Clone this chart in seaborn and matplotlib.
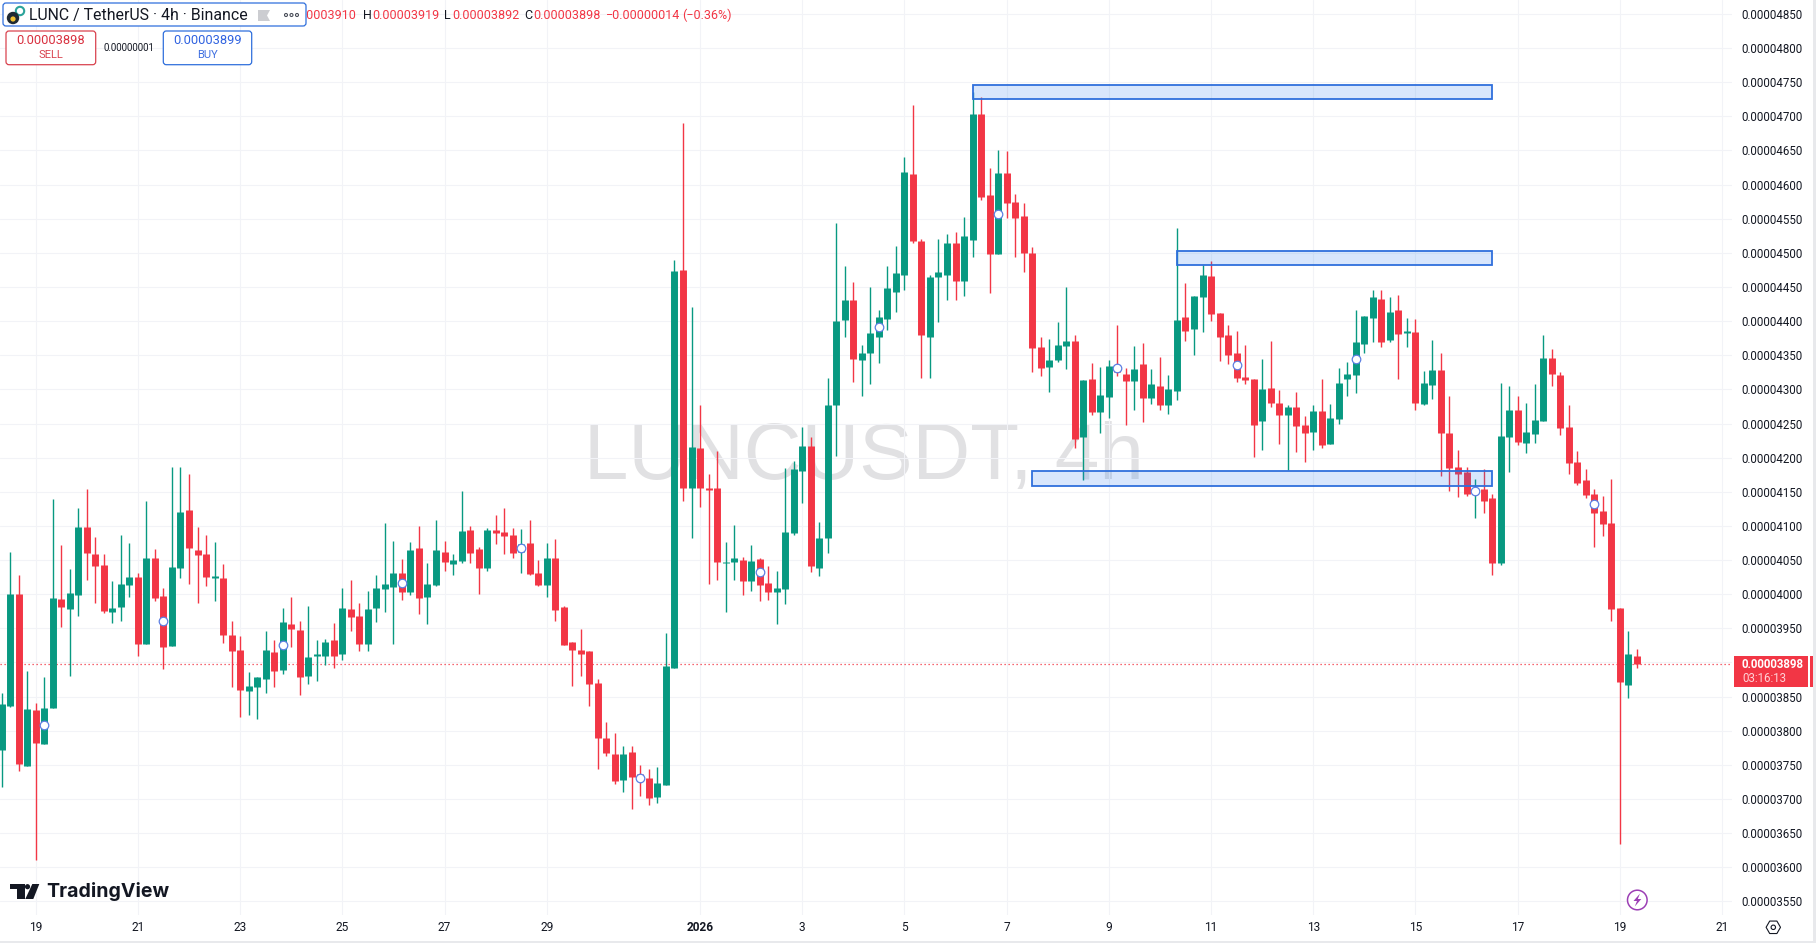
import numpy as np
import pandas as pd
import matplotlib.pyplot as plt
import seaborn as sns
from matplotlib.patches import Rectangle, FancyBboxPatch, Circle, Polygon

# prices are in units of 0.00000001, candle 0 opens on the 19th
opens = [3771, 3836, 4000, 3748, 3830, 3780, 3833, 3993, 3978, 3999,
         4098, 4059, 4043, 3974, 3981, 4013, 4025, 3927, 4053, 3997,
         3924, 4038, 4123, 4065, 4059, 4024, 4024, 3940, 3918, 3858,
         3864, 3876, 3915, 3889, 3956, 3947, 3880, 3910, 3909, 3933,
         3912, 3978, 3968, 3927, 3980, 4007, 4010, 4031, 4003, 4068,
         3996, 4013, 4062, 4044, 4049, 4094, 4066, 4038, 4094, 4091,
         4087, 4062, 4075, 4031, 4013, 4053, 3981, 3930, 3918, 3917,
         3870, 3789, 3766, 3728, 3769, 3736, 3730, 3703, 3720, 3892,
         4475, 4156, 4214, 4156, 4156, 4045, 4047, 4050, 4020, 4052,
         4017, 4003, 4008, 4090, 4181, 4217, 4039, 4082, 4277, 4401,
         4431, 4343, 4353, 4377, 4403, 4443, 4468, 4616, 4518, 4377,
         4465, 4468, 4514, 4459, 4519, 4703, 4585, 4498, 4617, 4574,
         4554, 4500, 4362, 4333, 4343, 4363, 4371, 4230, 4315, 4267,
         4289, 4335, 4322, 4312, 4337, 4287, 4305, 4277, 4297, 4406,
         4388, 4435, 4466, 4412, 4380, 4353, 4318, 4315, 4254, 4302,
         4280, 4262, 4274, 4248, 4237, 4268, 4220, 4256, 4315, 4321,
         4366, 4404, 4433, 4372, 4416, 4383, 4384, 4278, 4306, 4329,
         4236, 4186, 4179, 4146, 4154, 4141, 4046, 4230, 4270, 4221,
         4234, 4253, 4346, 4321, 4245, 4193, 4167, 4147, 4122, 4104,
         3980, 3867, 3910]
highs = [3855, 4062, 4028, 3887, 3840, 3879, 4139, 4072, 4037, 4126,
         4154, 4084, 4059, 4019, 4087, 4075, 4031, 4136, 4066, 4009,
         4186, 4186, 4176, 4098, 4087, 4076, 4044, 3961, 3939, 3886,
         3879, 3946, 3933, 3980, 3996, 3961, 3983, 3933, 3934, 3958,
         4009, 4021, 3987, 4005, 4028, 4104, 4078, 4051, 4076, 4100,
         4046, 4109, 4078, 4059, 4151, 4100, 4069, 4097, 4116, 4126,
         4097, 4095, 4109, 4050, 4075, 4081, 3983, 3930, 3949, 3917,
         3876, 3813, 3796, 3777, 3777, 3750, 3744, 3747, 3943, 4490,
         4690, 4420, 4277, 4176, 4209, 4076, 4102, 4055, 4072, 4053,
         4041, 4034, 4185, 4195, 4245, 4230, 4105, 4317, 4543, 4481,
         4457, 4365, 4450, 4417, 4480, 4510, 4640, 4716, 4520, 4468,
         4520, 4528, 4530, 4552, 4735, 4728, 4624, 4651, 4649, 4586,
         4573, 4509, 4377, 4374, 4399, 4450, 4380, 4314, 4339, 4333,
         4343, 4394, 4331, 4363, 4368, 4330, 4347, 4321, 4536, 4456,
         4437, 4482, 4488, 4412, 4394, 4385, 4365, 4315, 4344, 4371,
         4299, 4277, 4296, 4261, 4277, 4315, 4278, 4331, 4340, 4416,
         4407, 4446, 4445, 4435, 4438, 4404, 4403, 4327, 4373, 4353,
         4290, 4211, 4186, 4169, 4184, 4147, 4310, 4305, 4291, 4280,
         4308, 4379, 4359, 4325, 4277, 4210, 4183, 4154, 4144, 4169,
         3980, 3946, 3919]
lows = [3718, 3835, 3741, 3748, 3610, 3780, 3833, 3952, 3880, 3968,
        4021, 3987, 3972, 3958, 3961, 3996, 3909, 3927, 3990, 3890,
        3924, 4024, 4015, 3987, 4012, 3990, 3928, 3864, 3820, 3823,
        3817, 3855, 3864, 3883, 3922, 3852, 3868, 3873, 3896, 3892,
        3903, 3946, 3917, 3917, 3959, 3974, 3927, 3991, 3999, 3971,
        3956, 4012, 4034, 4028, 4046, 4046, 4000, 4034, 4073, 4059,
        4053, 4031, 4028, 4012, 3996, 3961, 3925, 3865, 3880, 3836,
        3744, 3763, 3722, 3710, 3685, 3704, 3691, 3694, 3720, 3892,
        4136, 4082, 4128, 4015, 4021, 3974, 4021, 3999, 4005, 3990,
        3991, 3957, 3986, 4086, 4134, 4032, 4026, 4060, 4202, 4376,
        4311, 4291, 4308, 4339, 4387, 4413, 4445, 4514, 4317, 4317,
        4398, 4431, 4431, 4437, 4494, 4577, 4441, 4498, 4551, 4494,
        4472, 4325, 4319, 4296, 4340, 4330, 4214, 4167, 4262, 4236,
        4258, 4319, 4248, 4270, 4252, 4278, 4270, 4264, 4284, 4371,
        4350, 4384, 4400, 4341, 4337, 4311, 4308, 4201, 4211, 4274,
        4220, 4182, 4208, 4193, 4211, 4214, 4220, 4249, 4291, 4294,
        4354, 4369, 4362, 4370, 4315, 4362, 4270, 4277, 4286, 4173,
        4151, 4142, 4144, 4112, 4119, 4028, 4043, 4179, 4218, 4207,
        4221, 4253, 4305, 4233, 4176, 4160, 4141, 4069, 4085, 3961,
        3634, 3848, 3892]
closes = [3839, 4000, 3751, 3832, 3782, 3833, 3994, 3981, 4002, 4098,
          4060, 4041, 3975, 3980, 4015, 4025, 3927, 4053, 3994, 3922,
          4040, 4120, 4068, 4057, 4025, 4026, 3940, 3917, 3859, 3865,
          3879, 3918, 3887, 3959, 3949, 3879, 3908, 3912, 3930, 3909,
          3980, 3966, 3927, 3978, 4009, 4015, 4031, 4003, 4065, 3994,
          4015, 4065, 4047, 4050, 4092, 4060, 4038, 4094, 4090, 4085,
          4060, 4073, 4029, 4013, 4053, 3977, 3925, 3918, 3912, 3868,
          3789, 3767, 3726, 3766, 3732, 3728, 3701, 3723, 3895, 4473,
          4156, 4216, 4155, 4153, 4047, 4047, 4053, 4020, 4049, 4014,
          4003, 4009, 4091, 4184, 4217, 4041, 4083, 4277, 4400, 4431,
          4345, 4354, 4382, 4406, 4449, 4470, 4618, 4518, 4380, 4465,
          4472, 4514, 4459, 4524, 4703, 4582, 4498, 4617, 4573, 4551,
          4500, 4360, 4331, 4343, 4365, 4371, 4227, 4314, 4267, 4292,
          4334, 4325, 4312, 4330, 4287, 4308, 4277, 4300, 4402, 4385,
          4437, 4467, 4410, 4377, 4350, 4317, 4314, 4248, 4300, 4280,
          4262, 4274, 4246, 4236, 4268, 4218, 4258, 4310, 4322, 4370,
          4407, 4435, 4369, 4414, 4381, 4385, 4280, 4309, 4329, 4236,
          4185, 4176, 4147, 4155, 4136, 4046, 4232, 4270, 4223, 4237,
          4255, 4346, 4322, 4243, 4192, 4163, 4145, 4119, 4103, 3978,
          3871, 3912, 3898]
first_candle = -4

# the small round alerts sitting on every 14th candle
alert_candles = [1, 15, 29, 43, 57, 71, 85, 99, 113, 127, 141, 155, 169, 183]
alert_prices = [3808, 3960, 3925, 4017, 4068, 3731, 4033, 4392, 4557, 4331,
                4335, 4345, 4151, 4132]

# drawn zones: start candle, end candle, top price, bottom price
zone_start = [110, 134, 117]
zone_end = [171, 171, 171]
zone_top = [4746, 4503, 4180]
zone_bottom = [4725, 4482, 4158]

last_price = 3898
price_ticks = list(range(3550, 4851, 50))
day_ticks = [0, 12, 24, 36, 48, 60, 78, 90, 102, 114, 126, 138, 150, 162, 174, 186, 198]
day_labels = ["19", "21", "23", "25", "27", "29", "2026", "3", "5", "7", "9",
              "11", "13", "15", "17", "19", "21"]

GREEN = "#089981"
RED = "#F23645"
INK = "#131722"
BLUE = "#2F6FDC"
GRID = "#F2F3F7"
W, H = 1816, 943

sns.set_theme(style="white")
plt.rcParams["font.family"] = ["Roboto", "DejaVu Sans"]

candle = np.arange(len(opens)) + first_candle
side = np.where(np.array(closes) >= np.array(opens), "up", "down")
colours = {"up": GREEN, "down": RED}

wicks = pd.DataFrame({"candle": np.repeat(candle, 2),
                      "price": np.column_stack([lows, highs]).ravel(),
                      "side": np.repeat(side, 2)})
bodies = pd.DataFrame({"candle": np.repeat(candle, 2),
                       "price": np.column_stack([opens, closes]).ravel(),
                       "side": np.repeat(side, 2)})
alerts = pd.DataFrame({"candle": alert_candles, "price": alert_prices})

fig = plt.figure(figsize=(W / 100, H / 100), dpi=100, facecolor="white")
ax = fig.add_axes([0, 1 - 915 / H, 1732 / W, 915 / H])

# axis limits put candle 0 near pixel 35.7 with 8.516 pixels per candle
ax.set_xlim(-4.193, 199.17)
ax.set_ylim(3530, 4870.4)

ax.text(0.499, 0.499, "LUNCUSDT, 4h", transform=ax.transAxes, ha="center", va="center",
        fontsize=57.6, color="#E1E1E3", family="Liberation Sans", zorder=0)

ax.axhline(last_price, color=RED, lw=0.9, ls=(0, (1, 2.2)), zorder=1.5)

sns.lineplot(data=wicks, x="candle", y="price", units="candle", hue="side", palette=colours,
             estimator=None, linewidth=1.0, legend=False, solid_capstyle="butt", ax=ax, zorder=2)
sns.lineplot(data=bodies, x="candle", y="price", units="candle", hue="side", palette=colours,
             estimator=None, linewidth=5.0, legend=False, solid_capstyle="butt", ax=ax, zorder=3)
sns.scatterplot(data=alerts, x="candle", y="price", s=38, color="white", edgecolor="#5C7FE3",
                linewidth=0.9, legend=False, ax=ax, zorder=4)

for start, end, top, bottom in zip(zone_start, zone_end, zone_top, zone_bottom):
    ax.add_patch(Rectangle((start, bottom), end - start, top - bottom, facecolor="#2979F0",
                           alpha=0.18, edgecolor="none", zorder=5))
    ax.add_patch(Rectangle((start, bottom), end - start, top - bottom, facecolor="none",
                           edgecolor=BLUE, lw=1.3, zorder=5))

ax.set_xlabel("")
ax.set_ylabel("")
ax.set_xticks(day_ticks)
ax.set_xticklabels(day_labels, fontsize=8.6, color=INK)
ax.get_xticklabels()[6].set_fontweight("bold")
ax.yaxis.tick_right()
ax.set_yticks(price_ticks)
ax.set_yticklabels(["{:.8f}".format(p / 1e8) for p in price_ticks], fontsize=8.3, color=INK)
ax.tick_params(axis="both", length=0)
ax.tick_params(axis="y", pad=7)
ax.tick_params(axis="x", pad=4.5)
ax.grid(True, color=GRID, lw=0.8)
ax.set_axisbelow(True)
sns.despine(ax=ax, left=True, right=True, top=True, bottom=True)

# interface bits on top, placed in pixels
ui = fig.add_axes([0, 0, 1, 1], facecolor="none")
ui.set_xlim(0, W)
ui.set_ylim(H, 0)
ui.axis("off")


def rounded(x0, y0, x1, y1, edge, face="white", z=6):
    ui.add_patch(FancyBboxPatch((x0 + 3, y0 + 3), x1 - x0 - 6, y1 - y0 - 6,
                                boxstyle="round,pad=3", facecolor=face, edgecolor=edge,
                                lw=0.9, zorder=z))


def label(x, y, s, size, color, ha="left", weight="normal", z=8, family=None):
    kw = {"family": family} if family else {}
    ui.text(x, y, s, fontsize=size, color=color, ha=ha, va="center", fontweight=weight, zorder=z, **kw)


# ohlc strip
label(356, 15.5, "O0.00003910", 9, RED, ha="right", z=5)
label(362.5, 15.5, "H", 9, INK)
label(372, 15.5, "0.00003919", 9, RED)
label(444, 15.5, "L", 9, INK)
label(452, 15.5, "0.00003892", 9, RED)
label(524, 15.5, "C", 9, INK)
label(533, 15.5, "0.00003898", 9, RED)
label(605.5, 15.5, "\u22120.00000014", 9, RED)
label(682.5, 15.5, "(\u22120.36%)", 9, RED)

rounded(3, 3, 306, 26, BLUE)
label(29, 15.5, "LUNC / TetherUS \u00b7 4h \u00b7 Binance", 11.4, INK)
ui.add_patch(Circle((13, 18), 6.2, facecolor="#1F2A33", edgecolor="none", zorder=7))
ui.add_patch(Circle((13, 19), 2.6, facecolor="#F2C230", edgecolor="none", zorder=8))
ui.add_patch(Circle((20, 11), 4.2, facecolor="white", edgecolor="#2BA39A", lw=1.5, zorder=6.5))
ui.add_patch(Polygon([(258, 10), (270, 10), (267, 15.5), (270, 21), (258, 21)],
                     facecolor="#CCCDD1", edgecolor="none", zorder=7))
for cx in [286, 291.5, 297]:
    ui.add_patch(Circle((cx, 15), 1.5, facecolor="white", edgecolor="#4A4E59", lw=0.8, zorder=7))

# order buttons
rounded(6, 31, 95.7, 64.7, "#D9434F")
label(50.8, 41, "0.00003898", 9.3, "#D9303F", ha="center")
label(50.8, 55, "SELL", 8, "#D9434F", ha="center")
label(129, 48, "0.00000001", 6.9, INK, ha="center")
rounded(163.3, 31, 251.7, 64.7, BLUE)
label(207.5, 41, "0.00003899", 9.3, "#2F62E0", ha="center")
label(207.5, 55, "BUY", 8, "#3F6FE0", ha="center")

# TradingView mark and name
ui.add_patch(Polygon([(10, 884), (25, 884), (25, 899), (16.7, 899), (16.7, 889.3), (10, 889.3)],
                     facecolor=INK, edgecolor="none", zorder=7))
ui.add_patch(Circle((27.5, 886.7), 2.6, facecolor=INK, edgecolor="none", zorder=7))
ui.add_patch(Polygon([(32.3, 884), (39.3, 884), (33.3, 899), (25.3, 899)],
                     facecolor=INK, edgecolor="none", zorder=7))
label(46, 891.5, "TradingView", 14.1, INK, weight="bold", family="Inter")

# price tag for the last trade
ui.add_patch(Rectangle((1734, 656), 74.3, 31, facecolor=RED, edgecolor="none", zorder=6))
ui.add_patch(Rectangle((1810, 656), 2.7, 31, facecolor=RED, edgecolor="none", zorder=6))
label(1742, 664.7, "0.00003898", 8.3, "white", weight="bold")
label(1742, 678.7, "03:16:13", 8.3, "#FFD3D7")

# flash icon
ui.add_patch(Circle((1637.3, 900), 9.8, facecolor="white", edgecolor="#9C3FB5", lw=1.1, zorder=6))
ui.add_patch(Polygon([(1640, 893.5), (1633.5, 901), (1637, 901), (1634.8, 906.5), (1641.3, 899),
                      (1637.8, 899)], facecolor="#9C3FB5", edgecolor="none", zorder=7))

# settings icon
hex_angles = np.deg2rad(np.arange(0, 360, 60))
ui.add_patch(Polygon(np.column_stack([1773.3 + 7.2 * np.cos(hex_angles), 927.3 + 7.2 * np.sin(hex_angles)]),
                     facecolor="white", edgecolor=INK, lw=0.8, zorder=7))
ui.add_patch(Circle((1773.3, 927.3), 2.2, facecolor="white", edgecolor=INK, lw=0.8, zorder=8))

# window edges
ui.add_patch(Rectangle((1813, 0), 3, H, facecolor="#E8E9EC", edgecolor="none", zorder=9))
ui.add_patch(Rectangle((0, 941), W, 2, facecolor="#E8E9EC", edgecolor="none", zorder=9))

fig.savefig("out.png", dpi=100)
